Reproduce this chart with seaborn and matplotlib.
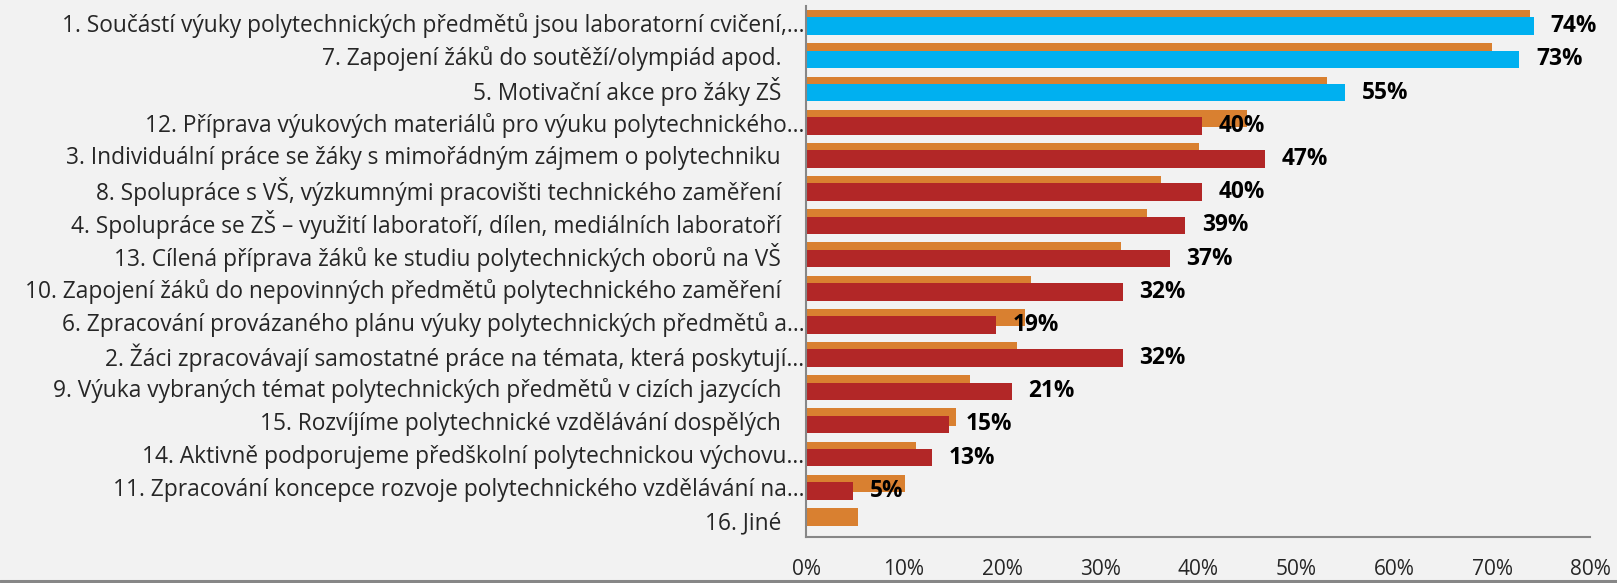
import matplotlib
matplotlib.use("Agg")
import matplotlib.pyplot as plt
import numpy as np
import pandas as pd
import seaborn as sns
from matplotlib.lines import Line2D
from matplotlib.ticker import FuncFormatter

# Data (percent)
categories = [
    "1. Součástí výuky polytechnických předmětů jsou laboratorní cvičení,…",
    "7. Zapojení žáků do soutěží/olympiád apod.",
    "5. Motivační akce pro žáky ZŠ",
    "12. Příprava výukových materiálů pro výuku polytechnického…",
    "3. Individuální práce se žáky s mimořádným zájmem o polytechniku",
    "8. Spolupráce s VŠ, výzkumnými pracovišti technického zaměření",
    "4. Spolupráce se ZŠ – využití laboratoří, dílen, mediálních laboratoří",
    "13. Cílená příprava žáků ke studiu polytechnických oborů na VŠ",
    "10. Zapojení žáků do nepovinných předmětů polytechnického zaměření",
    "6. Zpracování provázaného plánu výuky polytechnických předmětů a…",
    "2. Žáci zpracovávají samostatné práce na témata, která poskytují…",
    "9. Výuka vybraných témat polytechnických předmětů v cizích jazycích",
    "15. Rozvíjíme polytechnické vzdělávání dospělých",
    "14. Aktivně podporujeme předškolní polytechnickou výchovu…",
    "11. Zpracování koncepce rozvoje polytechnického vzdělávání na…",
    "16. Jiné",
]
previous = [73.9, 70.0, 53.2, 45.0, 40.1, 36.2, 34.8, 32.1, 23.0, 22.3,
            21.5, 16.7, 15.3, 11.2, 10.1, 5.3]
current = [74.3, 72.8, 55.0, 40.4, 46.8, 40.4, 38.7, 37.1, 32.3, 19.4,
           32.3, 21.0, 14.6, 12.9, 4.8, 0.0]
highlight = [True, True, True] + [False] * 13

ORANGE = "#D98030"
BLUE = "#00B0F0"
RED = "#B22727"
BG = "#F2F2F2"
GRAY = "#878787"

df = pd.DataFrame({"cat": categories, "prev": previous, "cur": current})
cur_colors = [BLUE if h else RED for h in highlight]

sns.set_style("white")
plt.rcParams["font.family"] = ["Open Sans", "DejaVu Sans"]

fig = plt.figure(figsize=(16.17, 5.83), dpi=100, facecolor=BG)
ax = fig.add_axes([806 / 1617, 1 - 537 / 583, 784 / 1617, 531 / 583])
ax.set_facecolor(BG)

shift = 0.11
bh = 0.53

# previous series (orange), slightly above the row centre
sns.barplot(data=df, x="prev", y="cat", orient="h", color=ORANGE,
            width=bh, linewidth=0, saturation=1, ax=ax)
n_prev = len(ax.patches)
for p in ax.patches:
    p.set_y(p.get_y() - shift)

# current series, slightly below, drawn on top
sns.barplot(data=df, x="cur", y="cat", hue="cat", palette=cur_colors,
            orient="h", width=bh, linewidth=0, saturation=1, legend=False, ax=ax)
cur_patches = ax.patches[n_prev:]
for p in cur_patches:
    p.set_y(p.get_y() + shift)

for p, v in zip(cur_patches, current):
    if v <= 0:
        continue
    ax.text(p.get_x() + p.get_width() + 1.7, p.get_y() + p.get_height() / 2,
            f"{round(v)}%", ha="left", va="center", fontsize=16.3,
            fontweight="bold", color="black")

n = len(categories)
ax.set_xlim(0, 80)
ax.set_ylim(n - 0.5, -0.5)
ax.set_xticks(np.arange(0, 81, 10))
ax.xaxis.set_major_formatter(FuncFormatter(lambda v, _: f"{v:.0f}%"))

# untruncated labels sit a bit further from the axis, like in the original
labels = [c if c.endswith("…") else c + "    " for c in categories]
ax.set_yticks(np.arange(n))
ax.set_yticklabels(labels)
ax.set_yticks(np.arange(-0.5, n), minor=True)
ax.set_xlabel("")
ax.set_ylabel("")

ax.tick_params(axis="y", which="major", length=0, pad=1, labelsize=16.4)
ax.tick_params(axis="y", which="minor", length=9, width=1.5, color=GRAY)
ax.tick_params(axis="x", which="major", length=9, width=1.5, color=GRAY,
               pad=7, labelsize=15)

for side in ["top", "right"]:
    ax.spines[side].set_visible(False)
for side in ["left", "bottom"]:
    ax.spines[side].set_color(GRAY)
    ax.spines[side].set_linewidth(1.5)

# frame line at the bottom of the chart area
fig.add_artist(Line2D([0, 1], [1.8 / 583, 1.8 / 583], transform=fig.transFigure,
                      color=GRAY, linewidth=2.2))

fig.savefig("out.png", dpi=100, facecolor=BG)
